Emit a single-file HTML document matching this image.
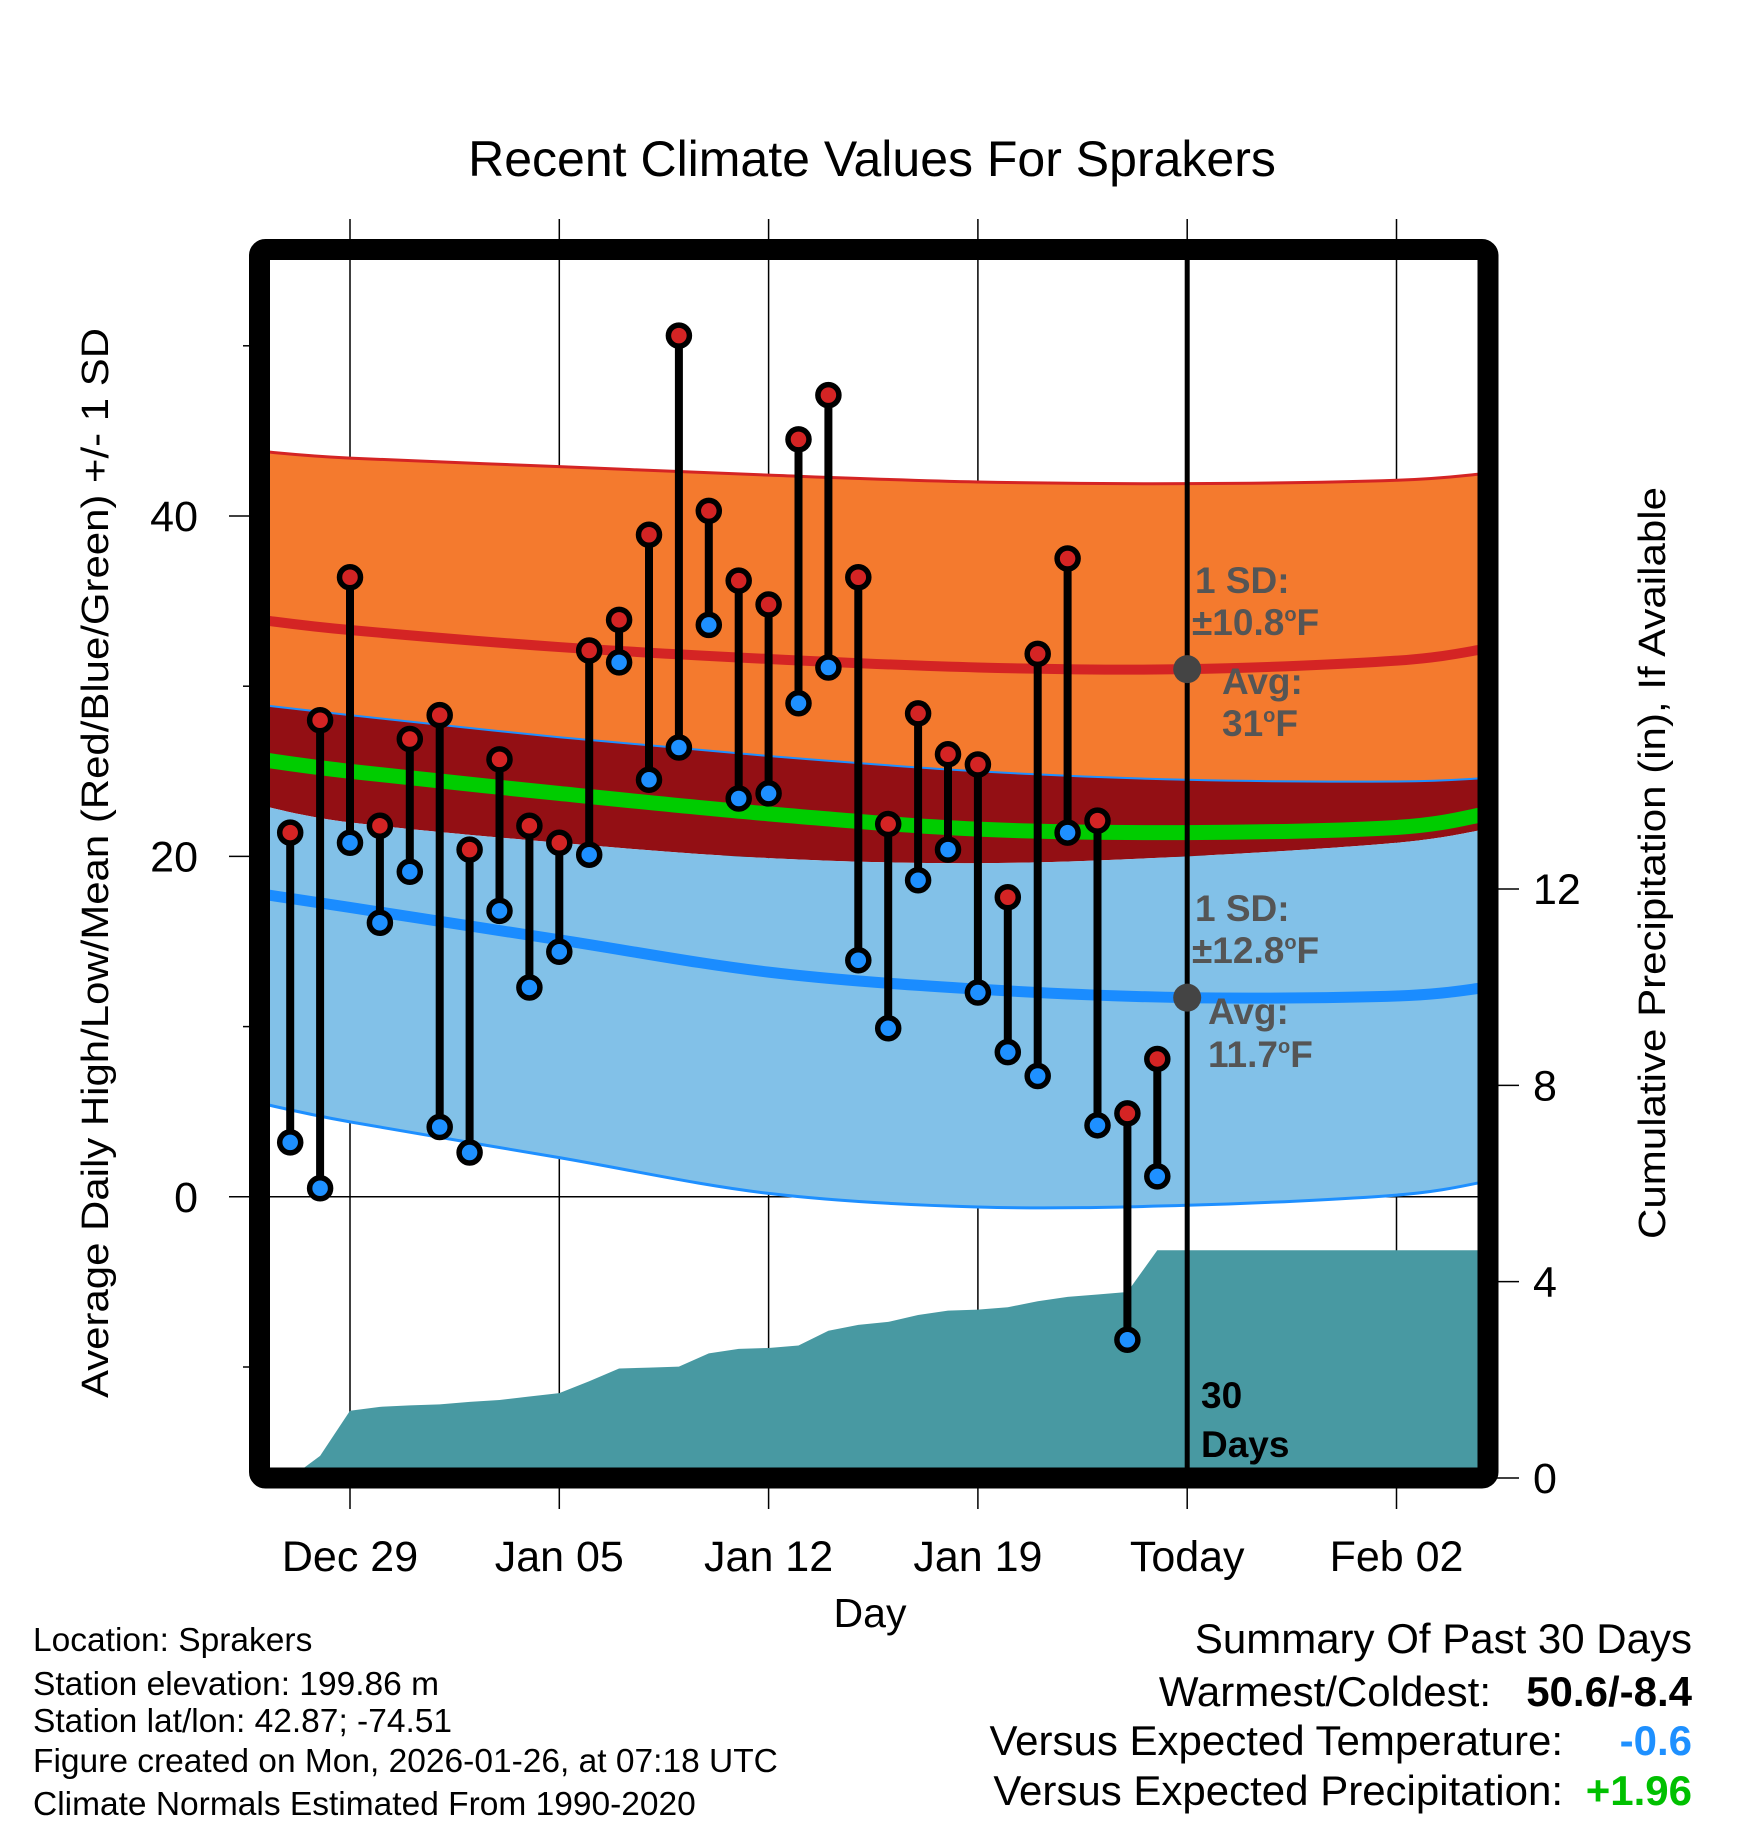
<!DOCTYPE html>
<html><head><meta charset="utf-8"><style>
html,body{margin:0;padding:0;background:#fff}
svg{display:block;font-family:"Liberation Sans",sans-serif}
</style></head><body>
<svg id="chart" width="1748" height="1828" viewBox="0 0 1748 1828" xmlns="http://www.w3.org/2000/svg">
<defs><clipPath id="plotclip"><rect x="270" y="260" width="1208" height="1208"/></clipPath></defs>
<text x="872" y="176" font-size="50" text-anchor="middle">Recent Climate Values For Sprakers</text>
<g id="grid"></g>
<g id="plot" clip-path="url(#plotclip)"></g>
<g id="axes"></g>
<text transform="translate(108,863) rotate(-90)" font-size="38" text-anchor="middle" textLength="1070" lengthAdjust="spacingAndGlyphs">Average Daily High/Low/Mean (Red/Blue/Green) +/- 1 SD</text>
<text transform="translate(1665,863) rotate(-90)" font-size="38" text-anchor="middle" textLength="752" lengthAdjust="spacingAndGlyphs">Cumulative Precipitation (in), If Available</text>
<text x="870" y="1627" font-size="41" text-anchor="middle">Day</text>
<g font-size="33.5">
<text x="33" y="1651">Location: Sprakers</text>
<text x="33" y="1695">Station elevation: 199.86 m</text>
<text x="33" y="1732">Station lat/lon: 42.87; -74.51</text>
<text x="33" y="1772">Figure created on Mon, 2026-01-26, at 07:18 UTC</text>
<text x="33" y="1815">Climate Normals Estimated From 1990-2020</text>
</g>
<g font-size="42">
<text x="1692" y="1653" text-anchor="end">Summary Of Past 30 Days</text>
<text x="1491" y="1706" text-anchor="end">Warmest/Coldest:</text>
<text x="1692" y="1706" text-anchor="end" font-weight="bold">50.6/-8.4</text>
<text x="1563" y="1755" text-anchor="end">Versus Expected Temperature:</text>
<text x="1692" y="1755" text-anchor="end" font-weight="bold" fill="#1e90ff">-0.6</text>
<text x="1563" y="1805" text-anchor="end">Versus Expected Precipitation:</text>
<text x="1692" y="1805" text-anchor="end" font-weight="bold" fill="#00c000">+1.96</text>
</g>
<g id="over"></g>
</svg>
<script>
// day offsets are relative to Dec 29
const tickDays = [0, 7, 14, 21, 28, 35];
const tickLabels = ["Dec 29", "Jan 05", "Jan 12", "Jan 19", "Today", "Feb 02"];
const tempTicks = [0, 20, 40];
const tempMinor = [-10, 10, 30, 50];
const precipTicks = [0, 4, 8, 12];
const obsDays = [-2,-1,0,1,2,3,4,5,6,7,8,9,10,11,12,13,14,15,16,17,18,19,20,21,22,23,24,25,26,27];
const highs = [21.4,28.0,36.4,21.8,26.9,28.3,20.4,25.7,21.8,20.8,32.1,33.9,38.9,50.6,40.3,36.2,34.8,44.5,47.1,36.4,21.9,28.4,26.0,25.4,17.6,31.9,37.5,22.1,4.9,8.1];
const lows = [3.2,0.5,20.8,16.1,19.1,4.1,2.6,16.8,12.3,14.4,20.1,31.4,24.5,26.4,33.6,23.4,23.7,29.0,31.1,13.9,9.9,18.6,20.4,12.0,8.5,7.1,21.4,4.2,-8.4,1.2];
const precipCum = [0.0,0.45,1.37,1.45,1.48,1.50,1.55,1.59,1.66,1.73,1.97,2.23,2.25,2.27,2.54,2.63,2.65,2.70,3.00,3.12,3.18,3.32,3.41,3.43,3.48,3.60,3.69,3.74,3.79,4.64];
const normDays = [-3, 0, 7, 14, 21, 28, 35, 38];
const highPlusSD = [43.8,43.4,42.9,42.4,42.0,41.9,42.1,42.5];
const highAvg = [33.9,33.3,32.3,31.6,31.1,31.0,31.5,32.2];
const highMinusSD = [28.9,28.3,27.0,25.9,25.0,24.5,24.4,24.6];
const meanAvg = [25.7,25.0,23.7,22.5,21.6,21.4,21.7,22.5];
const lowPlusSD = [23.0,22.0,20.8,19.9,19.6,20.0,20.8,21.6];
const lowAvg = [17.8,17.0,15.1,13.2,12.2,11.7,11.8,12.3];
const lowMinusSD = [5.5,4.4,2.3,0.2,-0.6,-0.5,0.1,0.9];
const todayDay = 28;
const todayHighAvg = 31, todayLowAvg = 11.7;

const NS = "http://www.w3.org/2000/svg";
function xDay(d){ return 350 + d*29.9; }
function yT(t){ return 1196.8 - t*17.02; }
function yP(p){ return 1478 - p*49.08; }
function mk(tag, attrs, parent){
  const e = document.createElementNS(NS, tag);
  for (const k in attrs) e.setAttribute(k, attrs[k]);
  parent.appendChild(e); return e;
}
function smooth(days, vals){
  const pts=[];
  for(let i=0;i<days.length;i++) pts.push([xDay(days[i]), yT(vals[i])]);
  let d = "M"+pts[0][0]+","+pts[0][1];
  for(let i=0;i<pts.length-1;i++){
    const p0=pts[Math.max(0,i-1)], p1=pts[i], p2=pts[i+1], p3=pts[Math.min(pts.length-1,i+2)];
    const c1=[p1[0]+(p2[0]-p0[0])/6, p1[1]+(p2[1]-p0[1])/6];
    const c2=[p2[0]-(p3[0]-p1[0])/6, p2[1]-(p3[1]-p1[1])/6];
    d += " C"+c1[0]+","+c1[1]+" "+c2[0]+","+c2[1]+" "+p2[0]+","+p2[1];
  }
  return d;
}
function bandPath(top, bot){
  const a = smooth(normDays, top);
  const rd = normDays.slice().reverse(), rb = bot.slice().reverse();
  const b = smooth(rd, rb).replace(/^M/, " L");
  return a + b + " Z";
}
const grid = document.getElementById('grid');
const plot = document.getElementById('plot');
const axes = document.getElementById('axes');
const over = document.getElementById('over');

let e;
e = mk('path', {d: bandPath(highPlusSD, highMinusSD), fill: '#f47a2e'}, plot);


e = mk('path', {d: bandPath(highMinusSD, lowPlusSD), fill: '#930f14'}, plot);


e = mk('path', {d: bandPath(lowPlusSD, lowMinusSD), fill: '#82c1e8'}, plot);


e = mk('path', {d: smooth(normDays, meanAvg), fill: 'none', stroke: '#00cc00', 'stroke-width': 15}, plot);


e = mk('path', {d: smooth(normDays, highPlusSD), fill: 'none', stroke: '#d42424', 'stroke-width': 3}, plot);


e = mk('path', {d: smooth(normDays, highMinusSD), fill: 'none', stroke: '#1e8fff', 'stroke-width': 2}, plot);


e = mk('path', {d: smooth(normDays, lowMinusSD), fill: 'none', stroke: '#1e8fff', 'stroke-width': 3}, plot);


e = mk('path', {d: smooth(normDays, highAvg), fill: 'none', stroke: '#d42424', 'stroke-width': 10}, plot);


e = mk('path', {d: smooth(normDays, lowAvg), fill: 'none', stroke: '#1a8cff', 'stroke-width': 11}, plot);



let pd = "M"+xDay(obsDays[0])+","+yP(0);
for(let i=0;i<obsDays.length;i++) pd += " L"+xDay(obsDays[i])+","+yP(precipCum[i]);
pd += " L"+xDay(40)+","+yP(precipCum[precipCum.length-1])+" L"+xDay(40)+","+yP(0)+" Z";
e = mk('path', {d: pd, fill: '#4899a2'}, plot);



tickDays.forEach((d,i)=>{
  const g = mk('line', {x1:xDay(d), x2:xDay(d), y1:219, y2:1509, stroke:'#000', 'stroke-width':1.5}, grid);
  
  
  const t = mk('text', {x:xDay(d), y:1571, 'font-size':43, 'text-anchor':'middle'}, axes);
  t.textContent = tickLabels[i];
  
  
});
tempTicks.forEach(v=>{
  const g = mk('line', {x1:229, x2:1478, y1:yT(v), y2:yT(v), stroke:'#000', 'stroke-width':1.5}, grid);
  
  
  const t = mk('text', {x:198, y:yT(v)+15, 'font-size':43, 'text-anchor':'end'}, axes);
  t.textContent = v;
  
  
});
tempMinor.forEach(v=>{
  const g = mk('line', {x1:243, x2:250, y1:yT(v), y2:yT(v), stroke:'#000', 'stroke-width':1.5}, axes);
  
  
});
precipTicks.forEach(v=>{
  const g = mk('line', {x1:1490, x2:1519, y1:yP(v), y2:yP(v), stroke:'#000', 'stroke-width':1.5}, axes);
  
  
  const t = mk('text', {x:1533, y:yP(v)+15, 'font-size':43}, axes);
  t.textContent = v;
  
  
});

obsDays.forEach((d,i)=>{
  const x = xDay(d);
  const s = mk('line', {x1:x, x2:x, y1:yT(highs[i]), y2:yT(lows[i]), stroke:'#000', 'stroke-width':8}, over);
  
  
  const h = mk('circle', {cx:x, cy:yT(highs[i]), r:10.5, fill:'#d42424', stroke:'#000', 'stroke-width':5.5}, over);
  
  
  const l = mk('circle', {cx:x, cy:yT(lows[i]), r:10.5, fill:'#1e90ff', stroke:'#000', 'stroke-width':5.5}, over);
  
  
});

e = mk('line', {x1:xDay(todayDay), x2:xDay(todayDay), y1:260, y2:1468, stroke:'#000', 'stroke-width':5}, over);


e = mk('circle', {cx:xDay(todayDay), cy:yT(todayHighAvg), r:14, fill:'#444'}, over);


e = mk('circle', {cx:xDay(todayDay), cy:yT(todayLowAvg), r:14, fill:'#444'}, over);



e = mk('rect', {x:259.5, y:249.5, width:1228.5, height:1228.5, rx:6, fill:'none', stroke:'#000', 'stroke-width':21}, over);


</script>
<div style="position:absolute;left:0;top:0;width:1748px;height:1828px;pointer-events:none;font-family:'Liberation Sans',sans-serif;font-weight:bold;color:#555;font-size:37px;line-height:1">
<div style="position:absolute;left:1195px;top:562px">1 SD:</div>
<div style="position:absolute;left:1192px;top:604px">±10.8<span style="font-size:20px;vertical-align:14px">o</span>F</div>
<div style="position:absolute;left:1222px;top:663px">Avg:</div>
<div style="position:absolute;left:1222px;top:705px">31<span style="font-size:20px;vertical-align:14px">o</span>F</div>
<div style="position:absolute;left:1195px;top:890px">1 SD:</div>
<div style="position:absolute;left:1192px;top:932px">±12.8<span style="font-size:20px;vertical-align:14px">o</span>F</div>
<div style="position:absolute;left:1208px;top:993px">Avg:</div>
<div style="position:absolute;left:1208px;top:1036px">11.7<span style="font-size:20px;vertical-align:14px">o</span>F</div>
<div style="position:absolute;left:1201px;top:1377px;color:#000">30<br><span style="display:block;margin-top:12px">Days</span></div>
</div>
</body></html>
